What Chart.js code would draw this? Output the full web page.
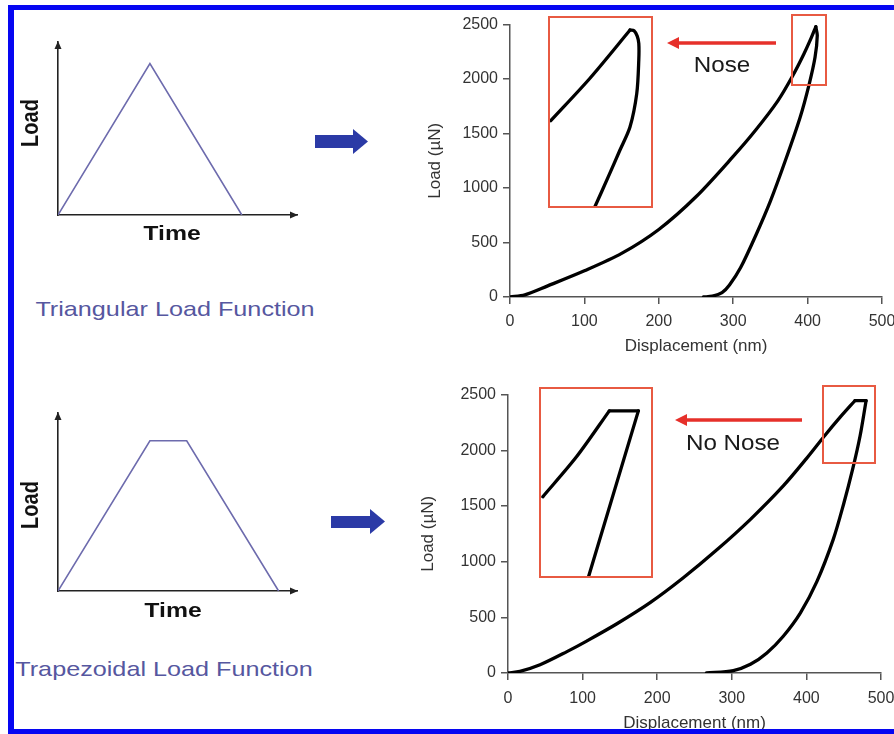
<!DOCTYPE html>
<html>
<head>
<meta charset="utf-8">
<title>Triangular vs trapezoidal load function</title>
<script src="https://cdn.jsdelivr.net/npm/chart.js@4.4.1/dist/chart.umd.min.js"></script>
<style>
    html, body { margin: 0; padding: 0; background: #fff; }
    body { position: relative; width: 894px; height: 734px; overflow: hidden; font-family: 'Liberation Sans', Arial, sans-serif; }
    canvas { position: absolute; }
    .lbl { position: absolute; white-space: nowrap; line-height: 1; }
    .frame { position: absolute; background: #0606f2; z-index: 10; }
    svg.over { position: absolute; left: 0; top: 0; z-index: 5; pointer-events: none; }
</style>
</head>
<body>

<!-- left: load functions -->
<canvas id="triChart" width="270" height="195" style="left:40px;top:30px"></canvas>
<canvas id="trapChart" width="270" height="200" style="left:40px;top:400px"></canvas>

<div class="lbl" style="left:30px;top:123px;font-size:20px;font-weight:bold;color:#111;transform:translate(-50%,-50%) rotate(-90deg) scaleY(1.18)">Load</div>
<div class="lbl" style="left:172px;top:232px;font-size:21px;font-weight:bold;color:#111;transform:translate(-50%,-50%) scaleX(1.18)">Time</div>
<div class="lbl" style="left:175px;top:298px;font-size:21px;color:#5657a0;transform:translate(-50%,0) scaleX(1.2)">Triangular Load Function</div>

<div class="lbl" style="left:30px;top:505px;font-size:20px;font-weight:bold;color:#111;transform:translate(-50%,-50%) rotate(-90deg) scaleY(1.18)">Load</div>
<div class="lbl" style="left:173px;top:609px;font-size:21px;font-weight:bold;color:#111;transform:translate(-50%,-50%) scaleX(1.18)">Time</div>
<div class="lbl" style="left:164px;top:658px;font-size:21px;color:#5657a0;transform:translate(-50%,0) scaleX(1.2)">Trapezoidal Load Function</div>

<!-- right: load-displacement curves -->
<canvas id="triCurve" width="490" height="355" style="left:415px;top:10px"></canvas>
<canvas id="trapCurve" width="495" height="354" style="left:410px;top:380px"></canvas>
<canvas id="noseInset" width="103" height="190" style="left:549px;top:17px"></canvas>
<canvas id="holdInset" width="112" height="189" style="left:540px;top:388px"></canvas>

<div class="lbl" style="left:722px;top:65px;font-size:22px;color:#1a1a1a;transform:translate(-50%,-50%) scaleX(1.1)">Nose</div>
<div class="lbl" style="left:733px;top:443px;font-size:22px;color:#1a1a1a;transform:translate(-50%,-50%) scaleX(1.1)">No Nose</div>

<svg class="over" width="894" height="734">
    <!-- blue arrows -->
    <rect x="315" y="135" width="39" height="13" fill="#2b3aa6"/>
    <polygon points="353,129 368,141.5 353,154" fill="#2b3aa6"/>
    <rect x="331" y="516" width="40" height="12" fill="#2b3aa6"/>
    <polygon points="370,509 385,521.5 370,534" fill="#2b3aa6"/>
    <!-- zoom boxes -->
    <rect x="792" y="15" width="34" height="70" fill="none" stroke="#e85a42" stroke-width="2"/>
    <rect x="549" y="17" width="103" height="190" fill="none" stroke="#e85a42" stroke-width="2"/>
    <rect x="823" y="386" width="52" height="77" fill="none" stroke="#e85a42" stroke-width="2"/>
    <rect x="540" y="388" width="112" height="189" fill="none" stroke="#e85a42" stroke-width="2"/>
    <!-- red arrows -->
    <line x1="776" y1="43" x2="676" y2="43" stroke="#e6302a" stroke-width="3.5"/>
    <polygon points="667,43 679,37 679,49" fill="#e6302a"/>
    <line x1="802" y1="420" x2="684" y2="420" stroke="#e6302a" stroke-width="3.5"/>
    <polygon points="675,420 687,414 687,426" fill="#e6302a"/>
</svg>

<div class="frame" style="left:8px;top:5px;width:6px;height:729px"></div>
<div class="frame" style="left:8px;top:5px;width:886px;height:5px"></div>
<div class="frame" style="left:8px;top:729px;width:886px;height:5px"></div>

<script>
    var chartFont = "'Liberation Sans', Arial, sans-serif";

    //------------------------------ data ------------------------------

    // load functions (arbitrary units)
    var triTime = [0, 5, 10];
    var triLoad = [0, 7, 0];
    var trapTime = [0, 5, 7, 12];
    var trapLoad = [0, 6.75, 6.75, 0];

    // ticks of the load-displacement plots
    var dispTicks = [0, 100, 200, 300, 400, 500];
    var loadTicks = [0, 500, 1000, 1500, 2000, 2500];

    // triangular test: displacement (nm) / load (µN)
    var triLoadingDisp = [0, 20, 50, 100, 150, 200, 250, 300, 330, 360, 380, 395, 405, 411];
    var triLoadingLoad = [0, 20, 100, 240, 400, 620, 920, 1290, 1530, 1800, 2030, 2230, 2380, 2480];
    var triUnloadDisp = [411, 413, 410, 402, 390, 370, 350, 330, 310, 295, 285, 272, 260];
    var triUnloadLoad = [2480, 2400, 2200, 1950, 1650, 1250, 880, 560, 270, 110, 40, 8, 0];

    // trapezoidal test
    var trapLoadingDisp = [0, 16, 43, 79, 106, 146, 191, 235, 280, 325, 369, 400, 425, 445, 465];
    var trapLoadingLoad = [0, 15, 74, 192, 289, 442, 634, 855, 1106, 1380, 1680, 1925, 2135, 2295, 2445];
    var trapHoldDisp = [465, 480];
    var trapHoldLoad = [2445, 2445];
    var trapUnloadDisp = [480, 472, 462, 450, 436, 414, 392, 369, 347, 325, 302, 266];
    var trapUnloadLoad = [2445, 2130, 1830, 1520, 1200, 820, 540, 330, 180, 78, 22, 0];

    // zoomed views of the peak
    var noseLoadingDisp = [379.8, 397.3, 415.2];
    var noseLoadingLoad = [2185, 2325, 2484];
    var noseUnloadDisp = [415.2, 417.0, 418.4, 419.1, 419.1, 418.2, 415.2, 410.7, 405.5, 399.5];
    var noseUnloadLoad = [2484, 2482, 2464, 2440, 2385, 2275, 2165, 2088, 2000, 1901];
    var holdLoadingDisp = [424.7, 445.6, 465.7];
    var holdLoadingLoad = [2158, 2304, 2470];
    var holdPlateauDisp = [465.7, 483.6];
    var holdPlateauLoad = [2470, 2470];
    var holdUnloadDisp = [483.6, 452.8];
    var holdUnloadLoad = [2470, 1866];

    //------------------------------ helpers ------------------------------

    function toPoints(xs, ys) {
        var pts = [];
        for (var i = 0; i < xs.length; i++) {
            pts.push({ x: xs[i], y: ys[i] });
        }
        return pts;
    }

    function curve(xs, ys, tension) {
        return {
            data: toPoints(xs, ys),
            showLine: true,
            borderColor: '#000',
            borderWidth: 3.3,
            pointRadius: 0,
            tension: tension,
            borderCapStyle: 'round',
            borderJoinStyle: 'round'
        };
    }

    // small arrow heads at the ends of the schematic axes
    var axisArrows = {
        id: 'axisArrows',
        afterDraw: function (chart) {
            var a = chart.chartArea;
            var ctx = chart.ctx;
            ctx.save();
            ctx.fillStyle = '#222';
            ctx.beginPath();
            ctx.moveTo(a.right + 1, a.bottom);
            ctx.lineTo(a.right - 7, a.bottom - 3.5);
            ctx.lineTo(a.right - 7, a.bottom + 3.5);
            ctx.closePath();
            ctx.fill();
            ctx.beginPath();
            ctx.moveTo(a.left, a.top - 1);
            ctx.lineTo(a.left - 3.5, a.top + 7);
            ctx.lineTo(a.left + 3.5, a.top + 7);
            ctx.closePath();
            ctx.fill();
            ctx.restore();
        }
    };

    //------------------------------ load function charts ------------------------------

    function LoadFunctionChart(id, times, loads, yMax, pad) {
        return new Chart(document.getElementById(id), {
            type: 'scatter',
            data: {
                datasets: [{
                    data: toPoints(times, loads),
                    showLine: true,
                    borderColor: '#6d6bad',
                    borderWidth: 1.6,
                    pointRadius: 0,
                    tension: 0
                }]
            },
            options: {
                responsive: false,
                animation: false,
                devicePixelRatio: 1,
                layout: { padding: pad },
                plugins: { legend: { display: false }, tooltip: { enabled: false } },
                scales: {
                    x: {
                        type: 'linear', min: 0, max: 13,
                        ticks: { display: false },
                        grid: { display: false },
                        border: { color: '#222', width: 1.6 },
                        afterFit: function (s) { s.height = 0; }
                    },
                    y: {
                        type: 'linear', min: 0, max: yMax,
                        ticks: { display: false },
                        grid: { display: false },
                        border: { color: '#222', width: 1.6 },
                        afterFit: function (s) { s.width = 0; }
                    }
                }
            },
            plugins: [axisArrows]
        });
    }

    LoadFunctionChart('triChart', triTime, triLoad, 8, { left: 18, top: 12, right: 13, bottom: 10 });
    LoadFunctionChart('trapChart', trapTime, trapLoad, 8, { left: 18, top: 13, right: 13, bottom: 9 });

    //------------------------------ load-displacement charts ------------------------------

    function LoadCurveChart(id, datasets, lay) {
        var tickFont = { family: chartFont, size: 16 };
        var titleFont = { family: chartFont, size: 17 };
        return new Chart(document.getElementById(id), {
            type: 'scatter',
            data: { datasets: datasets },
            options: {
                responsive: false,
                animation: false,
                devicePixelRatio: 1,
                layout: { padding: { left: 0, top: lay.top, right: lay.right, bottom: 0 } },
                plugins: { legend: { display: false }, tooltip: { enabled: false } },
                scales: {
                    x: {
                        type: 'linear', min: 0, max: 500,
                        afterBuildTicks: function (s) {
                            s.ticks = dispTicks.map(function (v) { return { value: v }; });
                        },
                        afterFit: function (s) { s.height = lay.xHeight; },
                        grid: { drawOnChartArea: false, tickLength: 7, color: '#555', lineWidth: 1.5 },
                        border: { color: '#555', width: 1.5 },
                        ticks: {
                            color: '#333', font: tickFont, padding: lay.xTickPad, maxRotation: 0,
                            callback: function (v) { return String(v); }
                        },
                        title: {
                            display: true, text: 'Displacement (nm)', color: '#333', font: titleFont,
                            padding: { top: 0, bottom: lay.xTitlePad }
                        }
                    },
                    y: {
                        type: 'linear', min: 0, max: 2500,
                        afterBuildTicks: function (s) {
                            s.ticks = loadTicks.map(function (v) { return { value: v }; });
                        },
                        afterFit: function (s) { s.width = lay.yWidth; },
                        grid: { drawOnChartArea: false, tickLength: 7, color: '#555', lineWidth: 1.5 },
                        border: { color: '#555', width: 1.5 },
                        ticks: {
                            color: '#333', font: tickFont, padding: 5,
                            callback: function (v) { return String(v); }
                        },
                        title: {
                            display: true, text: 'Load (µN)', color: '#333', font: titleFont,
                            padding: { top: lay.yTitlePad, bottom: 0 }
                        }
                    }
                }
            }
        });
    }

    LoadCurveChart('triCurve', [
        curve(triLoadingDisp, triLoadingLoad, 0.3),
        curve(triUnloadDisp, triUnloadLoad, 0.3)
    ], { top: 8, right: 23, xHeight: 68, yWidth: 95, xTickPad: 8, xTitlePad: 8, yTitlePad: 10 });

    LoadCurveChart('trapCurve', [
        curve(trapLoadingDisp, trapLoadingLoad, 0.3),
        curve(trapHoldDisp, trapHoldLoad, 0),
        curve(trapUnloadDisp, trapUnloadLoad, 0.3)
    ], { top: 11, right: 24, xHeight: 61, yWidth: 98, xTickPad: 9, xTitlePad: 0, yTitlePad: 8 });

    //------------------------------ insets ------------------------------

    function LoadInsetChart(id, datasets, xMin, xMax, yMin, yMax) {
        return new Chart(document.getElementById(id), {
            type: 'scatter',
            data: { datasets: datasets },
            options: {
                responsive: false,
                animation: false,
                devicePixelRatio: 1,
                layout: { padding: 0 },
                plugins: { legend: { display: false }, tooltip: { enabled: false } },
                scales: {
                    x: { type: 'linear', display: false, min: xMin, max: xMax },
                    y: { type: 'linear', display: false, min: yMin, max: yMax }
                }
            }
        });
    }

    LoadInsetChart('noseInset', [
        curve(noseLoadingDisp, noseLoadingLoad, 0.3),
        curve(noseUnloadDisp, noseUnloadLoad, 0.3)
    ], 379, 425, 1900, 2527);

    LoadInsetChart('holdInset', [
        curve(holdLoadingDisp, holdLoadingLoad, 0.3),
        curve(holdPlateauDisp, holdPlateauLoad, 0),
        curve(holdUnloadDisp, holdUnloadLoad, 0)
    ], 423, 492, 1867, 2553);
</script>
</body>
</html>
